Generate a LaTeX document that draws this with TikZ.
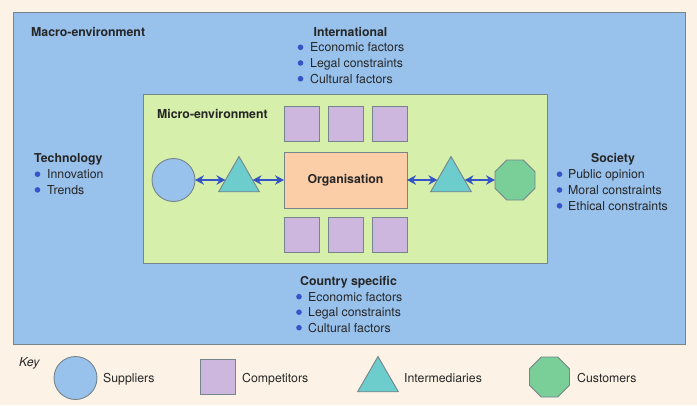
\documentclass[tikz,border=0pt]{standalone}
\usepackage{fontspec}
\setmainfont{TeX Gyre Heros}
\usetikzlibrary{arrows.meta,positioning,shapes.geometric}

\definecolor{paper}{RGB}{252,243,230}
\definecolor{macroblue}{RGB}{152,193,236}
\definecolor{microgreen}{RGB}{214,239,170}
\definecolor{comppurple}{RGB}{205,183,222}
\definecolor{orgpeach}{RGB}{252,206,168}
\definecolor{interteal}{RGB}{108,205,204}
\definecolor{custgreen}{RGB}{122,206,152}
\definecolor{edgegray}{RGB}{118,132,140}
\definecolor{dotblue}{RGB}{52,84,200}
\definecolor{inkgray}{RGB}{38,38,38}

\newcommand\diagfont{\fontsize{12.3pt}{14.8pt}\selectfont}

\tikzset{
  every node/.style={font=\diagfont},
  shapeedge/.style={draw=edgegray, line width=0.9pt, inner sep=0pt, outer sep=0pt},
  envbox/.style={shapeedge},
  supplier/.style={shapeedge, circle, fill=macroblue, minimum size=43pt},
  competitor/.style={shapeedge, rectangle, fill=comppurple, minimum size=35pt},
  intermediary/.style={shapeedge, regular polygon, regular polygon sides=3, fill=interteal, minimum size=47pt},
  customer/.style={shapeedge, regular polygon, regular polygon sides=8, fill=custgreen, minimum size=43.3pt},
  head/.style={font=\diagfont\bfseries, text=inkgray, inner sep=0pt, text height=8.9pt, text depth=0pt},
  item/.style={text=inkgray, inner sep=0pt, text height=8.9pt, text depth=0pt, anchor=west},
  link/.style={draw=dotblue, line width=2.2pt},
}

\begin{document}
\begin{tikzpicture}[%
    x=1pt, y=-1pt,
    >={Stealth[length=9pt,width=9.5pt,inset=3pt]},
    node distance=7pt
    ]
    \useasboundingbox (0,0) rectangle (697,405);
    \fill[paper] (0,0) rectangle (697,405);

    % environments
    \node[envbox, fill=macroblue, minimum width=672pt, minimum height=332pt] (macro) at (349,178) {};
    \node[envbox, fill=microgreen, minimum width=404pt, minimum height=169pt] (micro) at (345,178.5) {};
    \node[head, anchor=west] (macrotitle) at (31,32) {Macro-environment};
    \node[head, anchor=west] (microtitle) at (157,114) {Micro-environment};

    % organisation and its chain
    \node[shapeedge, fill=orgpeach, minimum width=123pt, minimum height=56pt, font=\diagfont\bfseries, text=inkgray] (org) at (345.5,180) {Organisation};
    \node[intermediary, on grid, left=106.5pt of org] (tri1) {};
    \node[supplier, on grid, left=65.5pt of tri1] (sup) {};
    \node[intermediary, on grid, right=105.5pt of org] (tri2) {};
    \node[customer, on grid, right=64pt of tri2] (cust) {};

    \path[<->, link] (sup) edge (tri1);
    \path[<->, link] (tri1) edge (org);
    \path[<->, link] (org) edge (tri2);
    \path[<->, link] (tri2) edge (cust);

    % competitors
    \foreach \cx [count=\i] in {301.5,345.5,389.5} {
        \node[competitor] (top\i) at (\cx,123.5) {};
        \node[competitor] (bot\i) at (\cx,234.5) {};
    }

    % factor lists
    \node[head] (intl) at (350.5,32) {International};
    \foreach \txt [count=\i] in {Economic factors,Legal constraints,Cultural factors} {
        \node[item] (intl\i) at (310,31.6+15.7*\i) {\txt};
        \fill[dotblue] ([xshift=-9.5pt]intl\i.west) circle (2.8pt);
    }
    \node[head, anchor=west] (tech) at (34,158.3) {Technology};
    \foreach \txt [count=\i] in {Innovation,Trends} {
        \node[item] (tech\i) at (47,158.5+15.7*\i) {\txt};
        \fill[dotblue] ([xshift=-9.5pt]tech\i.west) circle (2.8pt);
    }
    \node[head] (soc) at (613,158.3) {Society};
    \foreach \txt [count=\i] in {Public opinion,Moral constraints,Ethical constraints} {
        \node[item] (soc\i) at (568,158.4+15.8*\i) {\txt};
        \fill[dotblue] ([xshift=-8.5pt]soc\i.west) circle (2.8pt);
    }
    \node[head] (ctry) at (348.5,281) {Country specific};
    \foreach \txt [count=\i] in {Economic factors,Legal constraints,Cultural factors} {
        \node[item] (ctry\i) at (308,281.2+15.5*\i) {\txt};
        \fill[dotblue] ([xshift=-9pt]ctry\i.west) circle (2.8pt);
    }

    % key
    \node[item, font=\diagfont\itshape] (key) at (19,362) {Key};
    \node[supplier] (keysup) at (75.5,378) {};
    \node[item] (keysuptxt) at (103,378) {Suppliers};
    \node[competitor] (keycomp) at (217.5,376.5) {};
    \node[item] (keycomptxt) at (242,378) {Competitors};
    \node[intermediary] (keyint) at (378,380) {};
    \node[item] (keyinttxt) at (404,378) {Intermediaries};
    \node[customer] (keycust) at (549.5,377) {};
    \node[item] (keycusttxt) at (577,378) {Customers};
\end{tikzpicture}
\end{document}
